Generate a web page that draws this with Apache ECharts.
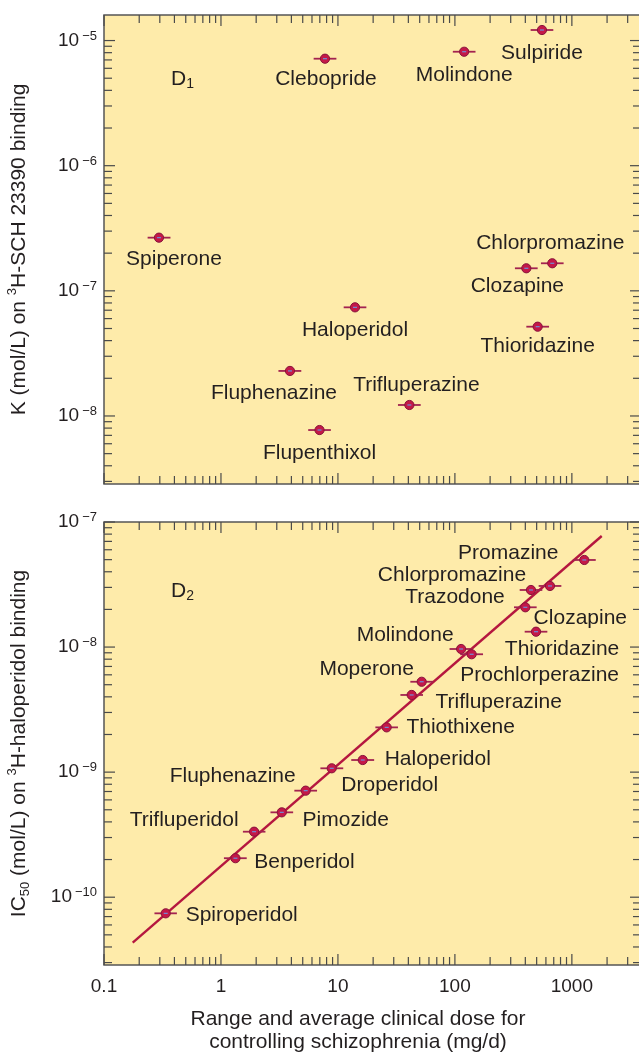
<!DOCTYPE html>
<html><head><meta charset="utf-8">
<script src="https://cdn.jsdelivr.net/npm/echarts@6/dist/echarts.min.js"></script>
<style>html,body{margin:0;padding:0;background:#fff}#c{width:639px;height:1053px}</style>
</head><body><div id="c"></div>
<script>
// ---------- DATA ----------
const xTickLabels = ['0.1', '1', '10', '100', '1000'];
const yTopTickExps = [-8, -7, -6, -5];
const yBottomTickExps = [-10, -9, -8, -7];

// D1 panel: K (mol/L) on 3H-SCH 23390 binding
const d1Names    = ['Spiperone','Fluphenazine','Flupenthixol','Clebopride','Haloperidol','Trifluperazine','Molindone','Clozapine','Thioridazine','Sulpiride','Chlorpromazine'];
const d1Dose     = [0.295, 3.89, 6.96, 7.75, 14.0, 40.8, 120, 408, 510, 555, 680];
const d1DoseLow  = [0.236, 3.1, 5.57, 6.2, 11.2, 32.6, 96, 326, 408, 444, 544];
const d1DoseHigh = [0.37, 4.86, 8.7, 9.7, 17.5, 51, 150, 510, 638, 694, 850];
const d1K        = [2.66e-7, 2.29e-8, 7.72e-9, 7.16e-6, 7.38e-8, 1.224e-8, 8.14e-6, 1.514e-7, 5.17e-8, 1.214e-5, 1.66e-7];

// D2 panel: IC50 (mol/L) on 3H-haloperidol binding
const d2Names    = ['Spiroperidol','Benperidol','Trifluperidol','Pimozide','Fluphenazine','Droperidol','Haloperidol','Thiothixene','Trifluperazine','Moperone','Molindone','Prochlorperazine','Clozapine','Trazodone','Thioridazine','Chlorpromazine','Promazine'];
const d2Dose     = [0.337, 1.33, 1.92, 3.31, 5.30, 8.85, 16.3, 26.1, 42.7, 52.0, 113, 139, 400, 447, 494, 650, 1277];
const d2DoseLow  = [0.27, 1.06, 1.54, 2.65, 4.24, 7.08, 13.0, 20.9, 34.2, 41.6, 90, 111, 320, 358, 395, 520, 1020];
const d2DoseHigh = [0.42, 1.66, 2.4, 4.14, 6.63, 11.1, 20.4, 32.6, 53.4, 65, 141, 174, 500, 559, 617, 813, 1600];
const d2IC50     = [7.43e-11, 2.05e-10, 3.34e-10, 4.77e-10, 7.11e-10, 1.073e-9, 1.25e-9, 2.28e-9, 4.14e-9, 5.28e-9, 9.65e-9, 8.76e-9, 2.08e-8, 2.86e-8, 1.327e-8, 3.08e-8, 4.97e-8];

// regression line (D2)
const fitDose = [0.176, 1800];
const fitIC50 = [4.33e-11, 7.73e-8];

// ---------- LAYOUT / STYLE ----------
const FONT = 'Liberation Sans, Arial, Helvetica, sans-serif';
const TEXT = '#231f20';
const BG = '#FEEBAA';
const RED_LINE = '#B5173F';
const BAR = '#A32350';
const DOT = '#C41848';
const DOT_EDGE = '#86133A';
const TICK = '#4a4a4a';

const X_RANGE = [0.1, 3900];
const Y1_RANGE = [2.86e-9, 1.6e-5];
const Y2_RANGE = [2.87e-11, 1e-7];

const d1LabelOffsets = {
  Clebopride:[1,21], Molindone:[0,23], Sulpiride:[0,23], Spiperone:[15,22],
  Chlorpromazine:[-2,-20], Clozapine:[-9,18], Haloperidol:[0,23], Thioridazine:[0,20],
  Fluphenazine:[-16,22], Trifluperazine:[7,-20], Flupenthixol:[0,23]
};
const d2LabelOffsets = {
  Promazine:[-76,-7], Chlorpromazine:[-98,-11], Trazodone:[-76,7], Clozapine:[55,11],
  Thioridazine:[26,18], Molindone:[-56,-14], Prochlorperazine:[68,21], Moperone:[-55,-13],
  Trifluperazine:[87,7], Thiothixene:[74,0], Haloperidol:[75,-1], Droperidol:[58,17],
  Fluphenazine:[-73,-14], Pimozide:[64,8], Trifluperidol:[-70,-11], Benperidol:[69,4],
  Spiroperidol:[76,2]
};

// ---------- HELPERS ----------
function logTicks(lo, hi) {
  const out = [];
  for (let k = Math.floor(Math.log10(lo)); k <= Math.ceil(Math.log10(hi)); k++) {
    for (let m = 1; m <= 9; m++) {
      const v = m * Math.pow(10, k);
      if (v >= lo * 0.99999 && v <= hi * 1.00001) out.push({ v: v, major: m === 1 ? 1 : 0 });
    }
  }
  return out;
}
function seg(x1, y1, x2, y2) {
  return { type: 'line', shape: { x1: x1, y1: y1, x2: x2, y2: y2 }, style: { stroke: TICK, lineWidth: 1.2 } };
}
function makeTickSeries(idx, xr, yr) {
  const data = [];
  logTicks(xr[0], xr[1]).forEach(t => data.push([t.v, yr[0], 0, t.major]));
  logTicks(yr[0], yr[1]).forEach(t => data.push([xr[0], t.v, 1, t.major]));
  return {
    type: 'custom', xAxisIndex: idx, yAxisIndex: idx, z: 4, silent: true, data: data,
    renderItem: function (params, api) {
      const kind = api.value(2), len = api.value(3) ? 11 : 8;
      let ch;
      if (kind === 0) {
        const v = api.value(0);
        const p = api.coord([v, yr[0]]), q = api.coord([v, yr[1]]);
        ch = [seg(p[0], p[1], p[0], p[1] - len), seg(q[0], q[1], q[0], q[1] + len)];
      } else {
        const v = api.value(1);
        const p = api.coord([xr[0], v]), q = api.coord([xr[1], v]);
        ch = [seg(p[0], p[1], p[0] + len, p[1]), seg(q[0], q[1], q[0] - len, q[1])];
      }
      return { type: 'group', children: ch };
    }
  };
}
function makePointSeries(idx, names, dose, lo, hi, val, offsets) {
  return {
    type: 'custom', xAxisIndex: idx, yAxisIndex: idx, z: 6, silent: true,
    data: names.map((n, i) => [dose[i], val[i], lo[i], hi[i]]),
    renderItem: function (params, api) {
      const y = api.value(1);
      const c = api.coord([api.value(0), y]);
      const a = api.coord([api.value(2), y]);
      const b = api.coord([api.value(3), y]);
      const name = names[params.dataIndex];
      const off = offsets[name] || [0, 22];
      return { type: 'group', children: [
        { type: 'line', shape: { x1: a[0], y1: c[1], x2: b[0], y2: c[1] }, style: { stroke: BAR, lineWidth: 1.8 } },
        { type: 'circle', shape: { cx: c[0], cy: c[1], r: 4.6 }, style: { fill: DOT, stroke: DOT_EDGE, lineWidth: 1 } },
        { type: 'line', shape: { x1: c[0] - 2, y1: c[1], x2: c[0] + 2, y2: c[1] }, style: { stroke: '#6f8fd8', lineWidth: 1.2 } },
        { type: 'text', x: c[0] + off[0], y: c[1] + off[1],
          style: { text: name, fill: TEXT, fontSize: 21, fontFamily: FONT, align: 'center', verticalAlign: 'middle' } }
      ] };
    }
  };
}
function xLabel(v) {
  const s = String(+(+v).toPrecision(6));
  return xTickLabels.indexOf(s) >= 0 ? s : '';
}
function yLabelFactory(exps) {
  return function (v) {
    const l = Math.log10(v), e = Math.round(l);
    if (Math.abs(l - e) > 1e-6 || exps.indexOf(e) < 0) return '';
    return '{b|10}{e|\u2212' + (-e) + '}';
  };
}
const yLabelRich = {
  b: { fontSize: 19, fontFamily: FONT, color: TEXT, lineHeight: 22 },
  e: { fontSize: 13, fontFamily: FONT, color: TEXT, lineHeight: 13, verticalAlign: 'top', padding: [0, 0, 0, 3] }
};
const nameRich = {
  t: { fontSize: 21, fontFamily: FONT, color: TEXT, lineHeight: 26 },
  s: { fontSize: 13, fontFamily: FONT, color: TEXT, lineHeight: 13, verticalAlign: 'top' },
  u: { fontSize: 13, fontFamily: FONT, color: TEXT, lineHeight: 13, verticalAlign: 'bottom' }
};
function yAxisCfg(idx, range, exps, name) {
  return {
    type: 'log', gridIndex: idx, min: range[0], max: range[1],
    axisLine: { show: false }, axisTick: { show: false }, splitLine: { show: false },
    axisLabel: { show: true, margin: 7, showMinLabel: true, showMaxLabel: true, interval: 0,
      formatter: yLabelFactory(exps), rich: yLabelRich, color: TEXT },
    name: name, nameLocation: 'middle', nameGap: 72, nameRotate: 90,
    nameTextStyle: { fontSize: 21, fontFamily: FONT, color: TEXT, rich: nameRich }
  };
}
function xAxisCfg(idx, showLabels) {
  return {
    type: 'log', gridIndex: idx, min: X_RANGE[0], max: X_RANGE[1],
    axisLine: { show: false }, axisTick: { show: false }, splitLine: { show: false },
    axisLabel: { show: showLabels, margin: 12, fontSize: 19, fontFamily: FONT, color: TEXT,
      showMinLabel: true, showMaxLabel: true, interval: 0, formatter: xLabel }
  };
}

const chart = echarts.init(document.getElementById('c'), null, { renderer: 'canvas' });
chart.setOption({
  animation: false,
  backgroundColor: '#ffffff',
  grid: [
    { left: 104, top: 15, width: 537, height: 469, show: true, backgroundColor: BG, borderColor: '#555', borderWidth: 1.5, containLabel: false, outerBoundsMode: 'none' },
    { left: 104, top: 522, width: 537, height: 443, show: true, backgroundColor: BG, borderColor: '#555', borderWidth: 1.5, containLabel: false, outerBoundsMode: 'none' }
  ],
  xAxis: [xAxisCfg(0, false), xAxisCfg(1, true)],
  yAxis: [
    yAxisCfg(0, Y1_RANGE, yTopTickExps, '{t|K (mol/L) on }{s|3}{t|H-SCH 23390 binding}'),
    yAxisCfg(1, Y2_RANGE, yBottomTickExps, '{t|IC}{u|50}{t| (mol/L) on }{s|3}{t|H-haloperidol binding}')
  ],
  graphic: [
    { type: 'text', x: 171, y: 79, z: 10,
      style: { text: '{d|D}{s|1}', verticalAlign: 'middle', align: 'left',
        rich: { d: { fontSize: 21, fontFamily: FONT, fill: TEXT, lineHeight: 24 },
                s: { fontSize: 14, fontFamily: FONT, fill: TEXT, lineHeight: 14, verticalAlign: 'bottom' } } } },
    { type: 'text', x: 171, y: 591, z: 10,
      style: { text: '{d|D}{s|2}', verticalAlign: 'middle', align: 'left',
        rich: { d: { fontSize: 21, fontFamily: FONT, fill: TEXT, lineHeight: 24 },
                s: { fontSize: 14, fontFamily: FONT, fill: TEXT, lineHeight: 14, verticalAlign: 'bottom' } } } },
    { type: 'text', x: 358, y: 1008, z: 10,
      style: { text: 'Range and average clinical dose for\ncontrolling schizophrenia (mg/d)',
        fontSize: 21, fontFamily: FONT, fill: TEXT, align: 'center', verticalAlign: 'top', lineHeight: 23 } }
  ],
  series: [
    makeTickSeries(0, X_RANGE, Y1_RANGE),
    makeTickSeries(1, X_RANGE, Y2_RANGE),
    { type: 'line', xAxisIndex: 1, yAxisIndex: 1, z: 3, silent: true, showSymbol: false, symbol: 'none',
      data: fitDose.map((d, i) => [d, fitIC50[i]]), lineStyle: { color: RED_LINE, width: 2.4 } },
    makePointSeries(0, d1Names, d1Dose, d1DoseLow, d1DoseHigh, d1K, d1LabelOffsets),
    makePointSeries(1, d2Names, d2Dose, d2DoseLow, d2DoseHigh, d2IC50, d2LabelOffsets)
  ]
});
</script>
</body></html>
